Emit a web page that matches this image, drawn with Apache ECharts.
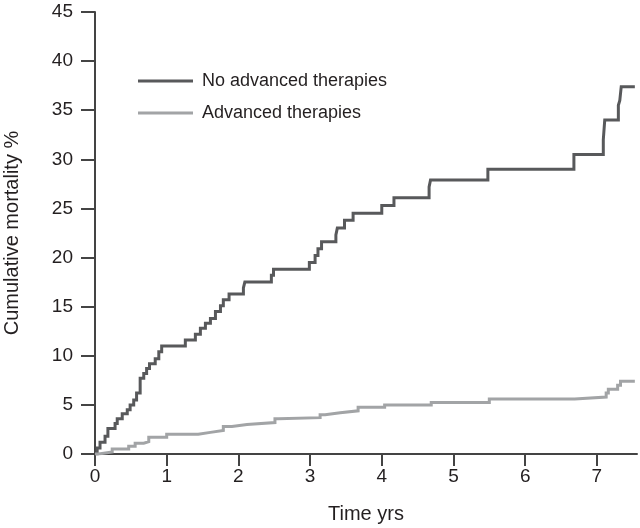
<!DOCTYPE html>
<html>
<head>
<meta charset="UTF-8">
<title>Cumulative mortality</title>
<script src="https://cdn.jsdelivr.net/npm/echarts@6.0.0/dist/echarts.min.js"></script>
<style>
  html, body { margin: 0; padding: 0; background: #fff; }
  #chart { width: 640px; height: 528px; }
</style>
</head>
<body>
<div id="chart"></div>
<script>
// step points: time (yrs) where the curve jumps, and the new value (%)
var noAdvTime = [0, 0.03, 0.07, 0.14, 0.18, 0.28, 0.31, 0.38, 0.45, 0.49, 0.54, 0.58, 0.63, 0.68, 0.72, 0.76, 0.84, 0.89, 0.93,
  1.26, 1.40, 1.47, 1.54, 1.61, 1.68, 1.75, 1.79, 1.87, 2.07, 2.09, 2.46, 2.49, 2.99, 3.07, 3.11, 3.16, 3.36, 3.38, 3.48, 3.60,
  4.00, 4.17, 4.66, 4.68, 5.48, 6.68, 7.09, 7.11, 7.30, 7.32, 7.34, 7.53];
var noAdvMort = [0, 0.6, 1.2, 1.8, 2.6, 3.1, 3.6, 4.1, 4.5, 5.0, 5.5, 6.2, 7.7, 8.2, 8.7, 9.2, 9.7, 10.4, 11.0,
  11.6, 12.2, 12.8, 13.3, 13.8, 14.5, 15.1, 15.7, 16.3, 16.9, 17.5, 18.2, 18.8, 19.5, 20.2, 20.9, 21.6, 22.3, 23.0, 23.8, 24.5,
  25.3, 26.1, 27.2, 27.9, 29.0, 30.5, 32.0, 34.0, 35.5, 36.0, 37.4, 37.4];

var advTime = [0, 0.05, 0.24, 0.47, 0.56, 0.68, 0.75, 1.00, 1.44, 1.61, 1.79, 1.91, 2.12, 2.51, 2.56, 3.14, 3.21, 3.42, 3.67,
  4.04, 4.69, 5.50, 6.69, 7.13, 7.16, 7.29, 7.33, 7.53];
var advMort = [0, 0.2, 0.5, 0.8, 1.1, 1.25, 1.7, 2.0, 2.2, 2.4, 2.8, 3.0, 3.2, 3.6, 3.7, 4.0, 4.2, 4.4, 4.75,
  5.0, 5.25, 5.6, 5.8, 6.2, 6.6, 7.0, 7.4, 7.4];

var xTicks = [0, 1, 2, 3, 4, 5, 6, 7];
var seriesNames = ['No advanced therapies', 'Advanced therapies'];

function pairs(xs, ys) {
  return xs.map(function (x, i) { return [x, ys[i]]; });
}

var font = '"Liberation Sans", Arial, sans-serif';
var axisCol = '#444444';
var textCol = '#231f20';

var chart = echarts.init(document.getElementById('chart'));
chart.setOption({
  animation: false,
  grid: { left: 95, right: 3, top: 12, bottom: 74, outerBoundsMode: 'none' },
  legend: {
    orient: 'vertical',
    left: 133,
    top: 67,
    itemWidth: 55,
    itemHeight: 3,
    itemGap: 14,
    icon: 'rect',
    textStyle: { fontFamily: font, fontSize: 18, color: textCol, padding: [0, 0, 0, 4] },
    data: seriesNames
  },
  xAxis: {
    type: 'value',
    min: 0,
    max: 7.56,
    interval: 1,
    name: 'Time yrs',
    nameLocation: 'middle',
    nameGap: 50,
    nameTextStyle: { fontFamily: font, fontSize: 20, color: textCol },
    splitLine: { show: false },
    axisLine: { lineStyle: { color: axisCol, width: 2 } },
    axisTick: { length: 12, customValues: xTicks, lineStyle: { color: axisCol, width: 2 } },
    axisLabel: { customValues: xTicks, margin: 13, fontFamily: font, fontSize: 19, color: textCol }
  },
  yAxis: {
    type: 'value',
    min: 0,
    max: 45,
    interval: 5,
    name: 'Cumulative mortality %',
    nameLocation: 'middle',
    nameGap: 73,
    nameTextStyle: { fontFamily: font, fontSize: 20, color: textCol },
    splitLine: { show: false },
    axisLine: { show: true, lineStyle: { color: axisCol, width: 2 } },
    axisTick: { show: true, length: 14, lineStyle: { color: axisCol, width: 2 } },
    axisLabel: { margin: 22, fontFamily: font, fontSize: 19, color: textCol }
  },
  series: [
    {
      name: seriesNames[0],
      type: 'line',
      step: 'end',
      showSymbol: false,
      color: '#58595b',
      lineStyle: { width: 3, color: '#58595b', join: 'miter', cap: 'butt' },
      data: pairs(noAdvTime, noAdvMort)
    },
    {
      name: seriesNames[1],
      type: 'line',
      step: 'end',
      showSymbol: false,
      color: '#a2a4a6',
      lineStyle: { width: 3, color: '#a2a4a6', join: 'miter', cap: 'butt' },
      data: pairs(advTime, advMort)
    }
  ]
});
</script>
</body>
</html>
